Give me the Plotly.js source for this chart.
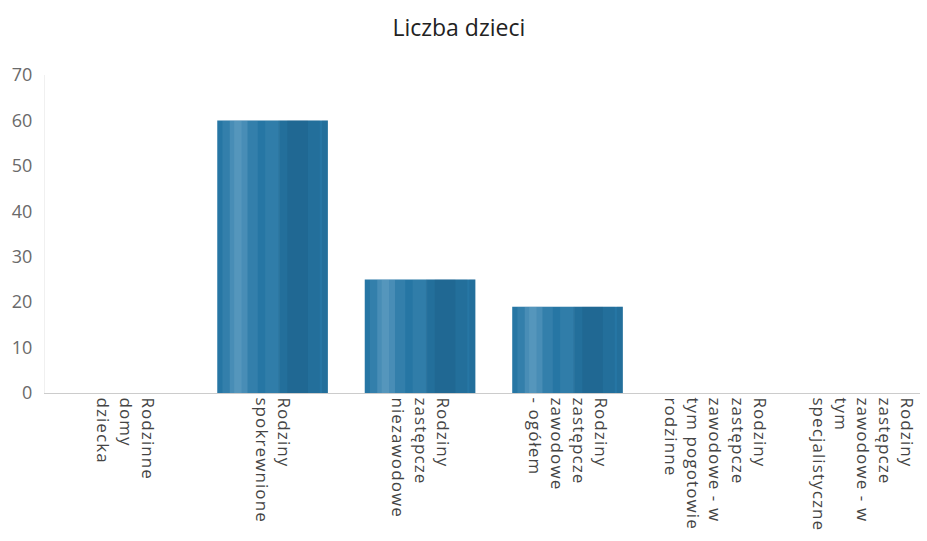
<!DOCTYPE html>
<html>
<head>
<meta charset="utf-8">
<script src="https://cdn.plot.ly/plotly-3.0.1.min.js"></script>
<style>
html,body{margin:0;padding:0;background:#fff;}
#chart{width:927px;height:541px;}
#chart .xtick text{letter-spacing:1.1px;}
</style>
</head>
<body>
<div id="chart"></div>
<script>
const categories = [
  "Rodzinne<br>domy<br>dziecka",
  "Rodziny<br>spokrewnione",
  "Rodziny<br>zastępcze<br>niezawodowe",
  "Rodziny<br>zastępcze<br>zawodowe<br>- ogółem",
  "Rodziny<br>zastępcze<br>zawodowe - w<br>tym pogotowie<br>rodzinne",
  "Rodziny<br>zastępcze<br>zawodowe - w<br>tym<br>specjalistyczne"
];
const values = [0, 60, 25, 19, 0, 0];
const yTicks = [0, 10, 20, 30, 40, 50, 60, 70];
const idx = categories.map((c, i) => i);

const base = {type: 'bar', x: idx, y: values, hoverinfo: 'skip', showlegend: false};
const shades = [
  {color: '#2676a4', width: 0.75, offset: -0.375},
  {color: 'rgba(170,210,235,0.10)', width: 0.24, offset: -0.34},
  {color: 'rgba(185,220,240,0.16)', width: 0.12, offset: -0.29},
  {color: 'rgba(185,220,240,0.12)', width: 0.05, offset: -0.26},
  {color: 'rgba(185,220,240,0.07)', width: 0.1, offset: -0.05},
  {color: 'rgba(10,45,80,0.10)', width: 0.28, offset: 0.04},
  {color: 'rgba(10,45,80,0.10)', width: 0.14, offset: 0.1},
  {color: 'rgba(10,45,80,0.10)', width: 0.04, offset: 0.335}
];
const traces = shades.map(s => Object.assign({}, base, {
  marker: {color: s.color, line: {width: 0}}, width: s.width, offset: s.offset
}));

const layout = {
  width: 927, height: 541,
  margin: {l: 45, r: 7, t: 75, b: 148},
  paper_bgcolor: '#fff', plot_bgcolor: '#fff',
  barmode: 'overlay',
  font: {family: '"Open Sans", "Noto Sans", sans-serif', color: '#555'},
  title: {text: 'Liczba dzieci', x: 0.495, xanchor: 'center', y: 0.948, yanchor: 'middle',
          font: {size: 23, color: '#222', family: '"Open Sans", "Noto Sans", sans-serif'}},
  xaxis: {
    tickmode: 'array', tickvals: idx, ticktext: categories,
    tickangle: 90, range: [-0.543, 5.39],
    showgrid: false, zeroline: false, showline: true, linecolor: '#cccccc', linewidth: 1,
    ticks: '', tickfont: {size: 17, color: '#444'}
  },
  yaxis: {
    range: [0, 70], tickmode: 'array', tickvals: yTicks,
    showgrid: false, zeroline: false, showline: true, linecolor: '#f0f0f0',
    ticks: '', tickfont: {size: 18, color: '#6a6a6a'}, ticklabelstandoff: 8
  }
};

Plotly.newPlot('chart', traces, layout, {displayModeBar: false, staticPlot: true});
</script>
</body>
</html>
